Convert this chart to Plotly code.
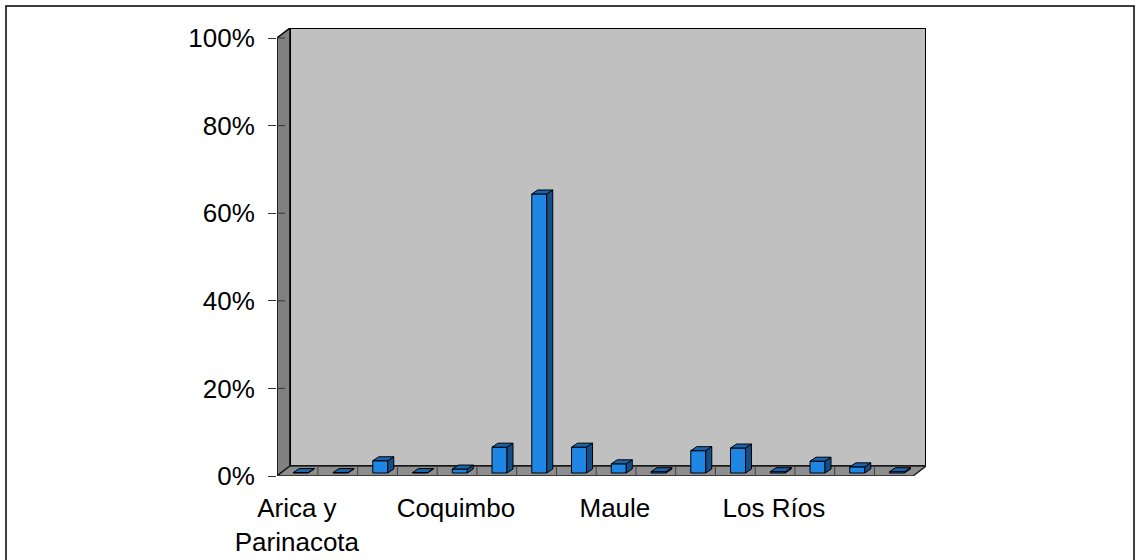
import plotly.graph_objects as go

# Regiones de Chile (norte a sur) y participación porcentual
regiones = [
    "Arica y Parinacota", "Tarapacá", "Antofagasta", "Atacama", "Coquimbo",
    "Valparaíso", "Metropolitana", "O'Higgins", "Maule", "Ñuble",
    "Biobío", "Araucanía", "Los Ríos", "Los Lagos", "Aysén", "Magallanes",
]
porcentajes = [0.1, 0.1, 2.8, 0.1, 0.9, 5.9, 63.7, 5.9, 2.1, 0.3,
               5.1, 5.7, 0.3, 2.7, 1.4, 0.3]
etiquetas_y = [0, 20, 40, 60, 80, 100]

W, H = 1136, 560
n = len(regiones)

# pseudo-3D geometry (axis units)
DX, DY = 0.327, 2.283          # wall / floor depth
FRONT = 0.3                    # bar position inside the floor depth
XS, YS = FRONT * DX, FRONT * DY
BW = 0.377                     # bar width
DXB, DYB = 0.151, 0.913        # bar depth
YMAX = 100

# plot area in pixels
L_PX, R_PX, T_PX, B_PX = 277, 926, 28, 476

FRONT_C = "#1f86e3"
SIDE_C = "#124f8a"
TOP_C = "#1a64ab"


def poly(pts):
    return "M " + " L ".join(f"{x},{y}" for x, y in pts) + " Z"


shapes = []
# back wall
shapes.append(dict(type="path", xref="x", yref="y", layer="below",
                   path=poly([(DX, DY), (DX, YMAX + DY), (n + DX, YMAX + DY), (n + DX, DY)]),
                   fillcolor="#c0c0c0", line=dict(color="black", width=2)))
# side wall
shapes.append(dict(type="path", xref="x", yref="y", layer="below",
                   path=poly([(0, 0), (0, YMAX), (DX, YMAX + DY), (DX, DY)]),
                   fillcolor="#808080", line=dict(color="black", width=1.5)))
# floor
shapes.append(dict(type="path", xref="x", yref="y", layer="below",
                   path=poly([(0, 0), (n, 0), (n + DX, DY), (DX, DY)]),
                   fillcolor="#8e8e8e", line=dict(color="#202020", width=1.5)))
# category separators on the floor
for k in range(1, n):
    shapes.append(dict(type="line", xref="x", yref="y", layer="below",
                       x0=k + 0.03, x1=k + 0.03, y0=0, y1=DY,
                       line=dict(color="#404040", width=1)))
# inner part of the value ticks, across the side wall
for v in etiquetas_y:
    shapes.append(dict(type="line", xref="x", yref="y", layer="below",
                       x0=0, x1=8 / 39.75, y0=v, y1=v,
                       line=dict(color="#333333", width=1)))

# chart border
def px_x(p):
    return (p - L_PX) / (R_PX - L_PX)


def px_y(p):
    return (B_PX - p) / (B_PX - T_PX)


shapes.append(dict(type="rect", xref="paper", yref="paper", layer="above",
                   x0=px_x(6), x1=px_x(1134), y0=px_y(6), y1=px_y(570),
                   line=dict(color="black", width=1.5), fillcolor="rgba(0,0,0,0)"))

fig = go.Figure()

# front faces
fig.add_trace(go.Bar(
    x=[i + 0.5 + XS for i in range(n)],
    y=porcentajes,
    base=[YS] * n,
    width=BW,
    marker=dict(color=FRONT_C, line=dict(color="black", width=1)),
    hoverinfo="skip",
    showlegend=False,
))

# side and top faces
side_x, side_y, top_x, top_y = [], [], [], []
for i, v in enumerate(porcentajes):
    r = i + 0.5 + XS + BW / 2
    l = r - BW
    for px, py in [(r, YS), (r, YS + v), (r + DXB, YS + v + DYB), (r + DXB, YS + DYB), (r, YS)]:
        side_x.append(px)
        side_y.append(py)
    side_x.append(None)
    side_y.append(None)
    for px, py in [(l, YS + v), (r, YS + v), (r + DXB, YS + v + DYB), (l + DXB, YS + v + DYB), (l, YS + v)]:
        top_x.append(px)
        top_y.append(py)
    top_x.append(None)
    top_y.append(None)

fig.add_trace(go.Scatter(x=side_x, y=side_y, mode="lines", fill="toself",
                         fillcolor=SIDE_C, line=dict(color="black", width=1),
                         hoverinfo="skip", showlegend=False))
fig.add_trace(go.Scatter(x=top_x, y=top_y, mode="lines", fill="toself",
                         fillcolor=TOP_C, line=dict(color="black", width=1),
                         hoverinfo="skip", showlegend=False))

ticktext = [r.replace(" y ", " y<br>") for r in regiones[::4]]

fig.update_layout(
    width=W, height=H,
    margin=dict(l=L_PX, r=W - R_PX, t=T_PX, b=H - B_PX, pad=0, autoexpand=False),
    paper_bgcolor="white", plot_bgcolor="white",
    font=dict(family="Liberation Sans, Arial, sans-serif", size=26, color="black"),
    shapes=shapes,
    showlegend=False,
    xaxis=dict(range=[0, n + DX], showgrid=False, zeroline=False, showline=False,
               automargin=False,
               tickmode="array", tickvals=[i + 0.5 for i in range(0, n, 4)],
               ticktext=ticktext, ticks="", ticklabelstandoff=14, fixedrange=True),
    yaxis=dict(range=[0, YMAX + DY], showgrid=False, zeroline=False, showline=False,
               automargin=False,
               tickmode="array", tickvals=etiquetas_y,
               ticktext=[f"{v}%" for v in etiquetas_y],
               ticks="outside", ticklen=8, tickcolor="#333333", tickwidth=1,
               ticklabelstandoff=8, fixedrange=True),
)

fig.write_html("out.html")
